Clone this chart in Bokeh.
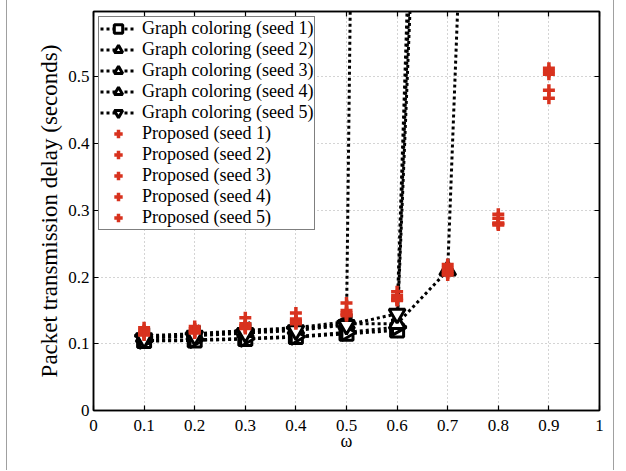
import math
from bokeh.plotting import figure
from bokeh.models import Range1d, FixedTicker, LinearAxis, Legend, LegendItem, Label
from bokeh.embed import file_html
from bokeh.resources import INLINE

nan = float("nan")

# ---------------- data ----------------
omega = [0.1, 0.2, 0.3, 0.4, 0.5, 0.6, 0.7, 0.8, 0.9]

gc_seed1 = [0.104, 0.105, 0.107, 0.110, 0.115, 0.120, 2.00, nan, nan]
gc_seed2 = [0.112, 0.115, 0.120, 0.124, 0.133, 6.50, nan, nan, nan]
gc_seed3 = [0.105, 0.106, 0.108, 0.111, 0.117, 0.125, 2.20, nan, nan]
gc_seed4 = [0.110, 0.113, 0.118, 0.122, 0.130, 0.130, 0.210, 2.20, nan]
gc_seed5 = [0.108, 0.112, 0.116, 0.120, 0.128, 0.145, 2.45, nan, nan]

prop_seed1 = [0.124, 0.126, 0.139, 0.146, 0.161, 0.178, 0.219, 0.294, 0.513]
prop_seed2 = [0.120, 0.122, 0.130, 0.137, 0.150, 0.172, 0.214, 0.288, 0.508]
prop_seed3 = [0.117, 0.120, 0.127, 0.134, 0.146, 0.168, 0.210, 0.281, 0.504]
prop_seed4 = [0.115, 0.118, 0.125, 0.132, 0.144, 0.166, 0.206, 0.280, 0.480]
prop_seed5 = [0.113, 0.116, 0.123, 0.130, 0.142, 0.165, 0.203, 0.278, 0.468]

gc_names = ["Graph coloring (seed 1)", "Graph coloring (seed 2)", "Graph coloring (seed 3)",
            "Graph coloring (seed 4)", "Graph coloring (seed 5)"]
prop_names = ["Proposed (seed 1)", "Proposed (seed 2)", "Proposed (seed 3)",
              "Proposed (seed 4)", "Proposed (seed 5)"]

x_ticks = [0, 0.1, 0.2, 0.3, 0.4, 0.5, 0.6, 0.7, 0.8, 0.9, 1]
x_tick_labels = ["0", "0.1", "0.2", "0.3", "0.4", "0.5", "0.6", "0.7", "0.8", "0.9", "1"]
y_ticks = [0, 0.1, 0.2, 0.3, 0.4, 0.5]
y_tick_labels = ["0", "0.1", "0.2", "0.3", "0.4", "0.5"]

x_label = "ω"
y_label = "Packet transmission delay (seconds)"
caption_tag = "(b)"
caption_text = "NON-DPA with different seed values (40 nodes)"

# ---------------- figure ----------------
FONT = "Liberation Serif"
RED = "#d8321e"

p = figure(width=616, height=470, x_range=Range1d(0, 1), y_range=Range1d(0, 0.598),
           output_backend="svg", toolbar_location=None,
           min_border_left=93, min_border_right=17, min_border_top=11, min_border_bottom=60)
p.border_fill_color = None
p.background_fill_color = "white"
p.outline_line_color = "black"
p.outline_line_width = 1.5
p.styles = {"background-image": "linear-gradient(to right, transparent 6px, #a0a0a0 6px, "
                                "#a0a0a0 7px, transparent 7px, transparent 613px, #a0a0a0 613px, "
                                "#a0a0a0 614px, transparent 614px)"}

xt = FixedTicker(ticks=x_ticks)
yt = FixedTicker(ticks=y_ticks)

for ax, tk, labs in ((p.xaxis[0], x_ticks, x_tick_labels), (p.yaxis[0], y_ticks, y_tick_labels)):
    ax.ticker = FixedTicker(ticks=tk)
    ax.major_label_overrides = {t: l for t, l in zip(tk, labs)}
    ax.major_tick_in = 5
    ax.major_tick_out = 0
    ax.minor_tick_in = 0
    ax.minor_tick_out = 0
    ax.axis_line_color = "black"
    ax.axis_line_width = 1.5
    ax.major_tick_line_color = "black"
    ax.major_tick_line_width = 1.2
    ax.major_label_text_font = FONT
    ax.major_label_text_font_size = "17px"
    ax.major_label_text_color = "black"
    ax.axis_label_text_font = FONT
    ax.axis_label_text_font_style = "normal"
    ax.axis_label_text_color = "black"

p.xaxis[0].axis_label = x_label
p.xaxis[0].axis_label_text_font_size = "18px"
p.xaxis[0].major_label_standoff = 9
p.xaxis[0].axis_label_standoff = -3
p.yaxis[0].axis_label = y_label
p.yaxis[0].axis_label_text_font_size = "23px"
p.yaxis[0].major_label_standoff = 4
p.yaxis[0].axis_label_standoff = 3

# top / right frame ticks (minor ticks only -> no labels)
top_ax = LinearAxis(ticker=FixedTicker(ticks=[], minor_ticks=x_ticks),
                    major_tick_in=0, major_tick_out=0, minor_tick_in=5, minor_tick_out=0,
                    axis_line_color="black", axis_line_width=1.5,
                    minor_tick_line_color="black", minor_tick_line_width=1.2)
right_ax = LinearAxis(ticker=FixedTicker(ticks=[], minor_ticks=y_ticks),
                      major_tick_in=0, major_tick_out=0, minor_tick_in=5, minor_tick_out=0,
                      axis_line_color="black", axis_line_width=1.5,
                      minor_tick_line_color="black", minor_tick_line_width=1.2)
p.add_layout(top_ax, "above")
p.add_layout(right_ax, "right")

for g in (p.xgrid[0], p.ygrid[0]):
    g.grid_line_color = "#a8a8a8"
    g.grid_line_dash = "1 3"
    g.grid_line_width = 1
p.xgrid[0].ticker = xt
p.ygrid[0].ticker = yt

# ---------------- glyphs ----------------
gc_series = [gc_seed1, gc_seed2, gc_seed3, gc_seed4, gc_seed5]
gc_markers = [("square", 0.0, 13), ("triangle", math.pi / 2, 16), ("triangle", -math.pi / 2, 16),
              ("triangle", 0.0, 16), ("inverted_triangle", 0.0, 16)]
items = []
for vals, name, (mk, ang, sz) in zip(gc_series, gc_names, gc_markers):
    ln = p.line(omega, vals, line_color="black", line_width=3, line_dash="3 3")
    sc = p.scatter(omega, vals, marker=mk, angle=ang, size=sz, line_color="black",
                   line_width=3, fill_color="white")
    items.append(LegendItem(label=name, renderers=[ln, sc]))

prop_series = [prop_seed1, prop_seed2, prop_seed3, prop_seed4, prop_seed5]
for vals, name in zip(prop_series, prop_names):
    sc = p.scatter(omega, vals, marker="cross", size=12, line_color=RED, line_width=3.5)
    items.append(LegendItem(label=name, renderers=[sc]))

legend = Legend(items=items, location="top_left", margin=5, padding=1, spacing=0,
                glyph_width=36, glyph_height=21, label_height=21, label_standoff=6,
                label_text_font=FONT, label_text_font_size="18px", label_text_color="black",
                border_line_color="black", border_line_width=1.2,
                background_fill_color="white", background_fill_alpha=1.0)
p.add_layout(legend)

# ---------------- caption (partly cut off at the bottom) ----------------
p.add_layout(Label(x=0.146, y=-0.059, text=caption_tag, text_font=FONT, text_font_size="28px",
                   text_color="black", text_baseline="top"))
p.add_layout(Label(x=0.225, y=-0.074, text=caption_text, text_font=FONT, text_font_size="18px",
                   text_color="black", text_baseline="top"))

open("out.html", "w").write(file_html(p, INLINE))
